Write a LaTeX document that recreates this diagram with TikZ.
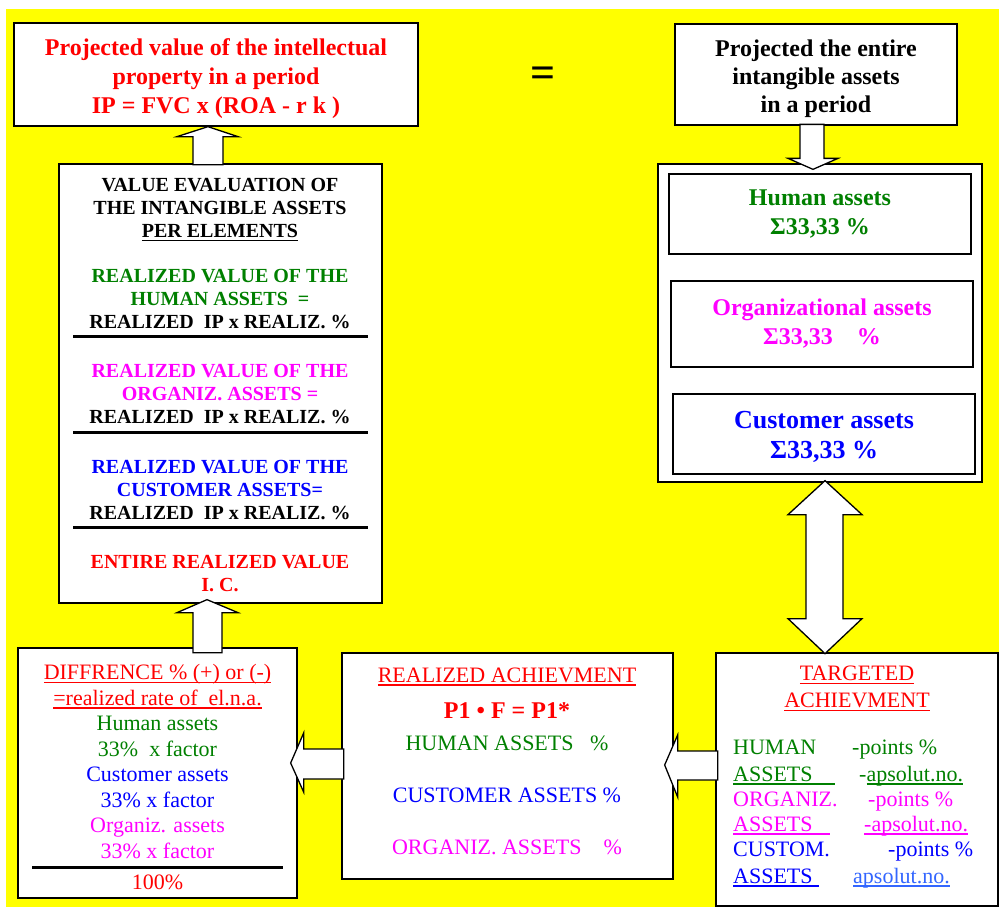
\documentclass[tikz,border=0pt]{standalone}
\usepackage{fontspec}
\setmainfont{Liberation Serif}
\usetikzlibrary{calc}
\definecolor{ipred}{RGB}{255,0,0}
\definecolor{ipgreen}{RGB}{0,128,0}
\definecolor{ipblue}{RGB}{0,0,255}
\definecolor{ipmagenta}{RGB}{255,0,255}
\definecolor{lightblue}{RGB}{51,102,255}
\definecolor{bgyellow}{RGB}{255,255,0}
\newcommand{\undl}[1]{\setbox0=\hbox{#1}\rlap{\rule[-3.5pt]{\wd0}{1.5pt}}\box0}

\begin{document}
\begin{tikzpicture}[x=1pt, y=-1pt,
	box/.style={draw, line width=1.3pt, fill=white, inner sep=0pt},
	blockarrow/.style={draw, line width=1.3pt, fill=white, line join=miter},
	rule/.style={line width=3pt},
	bighead/.style={font=\fontsize{24}{29}\selectfont\bfseries, align=center},
	evaltxt/.style={font=\fontsize{20}{23}\selectfont\bfseries, align=center},
	plain/.style={font=\fontsize{22}{25.5}\selectfont, align=center},
	oneline/.style={font=\fontsize{22}{22}\selectfont, inner sep=0pt, text height=14.5pt, text depth=0pt},
	row/.style={oneline, anchor=west}]
	\useasboundingbox (0,0) rectangle (999,907);
	\fill[bgyellow] (6,9) rectangle (999,907);

	\node[box, minimum width=404, minimum height=103] (ipbox) at (216,74.5) {};
	\node[bighead, text=ipred] (iptext) at (216,79) {Projected value of the intellectual\\property in a period\\IP = FVC x (ROA - r k )};
	\node[font=\fontsize{44}{44}\selectfont\bfseries] (eqsign) at (543,77) {=};
	\node[box, minimum width=282, minimum height=101] (totalbox) at (816,74.5) {};
	\node[bighead, font=\fontsize{24}{28}\selectfont\bfseries] (totaltext) at (816,78.5) {Projected the entire\\intangible assets\\in a period};

	\node[box, minimum width=324, minimum height=318] (bigbox) at (820,323) {};
	\node[box, minimum width=302, minimum height=80, bighead, text=ipgreen] (humanbox) at (820,214) {Human assets\\Σ33,33 \%};
	\node[box, minimum width=302, minimum height=86, bighead, text=ipmagenta] (orgbox) at (822,324) {Organizational assets\\Σ33,33\ \ \ \ \%};
	\node[box, minimum width=302, minimum height=80] (custbox) at (824,434) {};
	\node[bighead, font=\fontsize{26}{30}\selectfont\bfseries, text=ipblue] (custtext) at (824,437) {Customer assets\\Σ33,33 \%};

	\node[box, minimum width=323, minimum height=439] (evalbox) at (220.5,383.5) {};
	\node[evaltxt] (evaltitle) at (220,210) {VALUE EVALUATION OF\\THE INTANGIBLE ASSETS\\\undl{PER ELEMENTS}};
	\node[evaltxt, text=ipgreen] (evalhuman) at (220,299) {REALIZED VALUE OF THE\\HUMAN ASSETS\ \ =\\\textcolor{black}{REALIZED\ \ IP x REALIZ. \%}};
	\node[evaltxt, text=ipmagenta] (evalorg) at (220,394) {REALIZED VALUE OF THE\\ORGANIZ. ASSETS =\\\textcolor{black}{REALIZED\ \ IP x REALIZ. \%}};
	\node[evaltxt, text=ipblue] (evalcust) at (220,490) {REALIZED VALUE OF THE\\CUSTOMER ASSETS=\\\textcolor{black}{REALIZED\ \ IP x REALIZ. \%}};
	\node[evaltxt, text=ipred] (evaltotal) at (220,573.5) {ENTIRE REALIZED VALUE\\I. C.};
	\foreach \y in {336,432,527}
		\draw[rule] (73,\y) -- (368,\y);

	\node[box, minimum width=279, minimum height=250] (diffbox) at (157.5,773) {};
	\node[plain, text=ipred] (difftext) at (157.5,761.5) {\undl{DIFFRENCE \% (+) or (-)}\\\undl{=realized rate of\ \ el.n.a.}\\\textcolor{ipgreen}{Human assets}\\\textcolor{ipgreen}{33\%\ \ x factor}\\\textcolor{ipblue}{Customer assets}\\\textcolor{ipblue}{33\% x factor}\\\textcolor{ipmagenta}{Organiz. assets}\\\textcolor{ipmagenta}{33\% x factor}};
	\draw[rule] (32,867) -- (283,867);
	\node[oneline, text=ipred] (diffsum) at (157.5,882) {100\%};

	\node[box, minimum width=331, minimum height=226] (realbox) at (507.5,766) {};
	\node[oneline, text=ipred] (realtitle) at (507,675) {\undl{REALIZED ACHIEVMENT}};
	\node[oneline, font=\fontsize{24}{24}\selectfont\bfseries, text height=16pt, text=ipred] (realform) at (507,710) {P1 • F = P1*};
	\node[oneline, text=ipgreen] (realhuman) at (507,743) {HUMAN ASSETS\ \ \ \%};
	\node[oneline, text=ipblue] (realcust) at (507,795) {CUSTOMER ASSETS \%};
	\node[oneline, text=ipmagenta] (realorg) at (507,847) {ORGANIZ. ASSETS\ \ \ \ \%};

	\node[box, minimum width=282, minimum height=253] (targetbox) at (857,779.5) {};
	\node[plain, font=\fontsize{22}{27}\selectfont, text=ipred] (targettitle) at (857,688.5) {\undl{TARGETED}\\\undl{ACHIEVMENT}};
	\node[row, text=ipgreen] (thuman) at (733,747) {HUMAN};
	\node[row, text=ipgreen] (thumanpts) at (852,747) {-points \%};
	\node[row, text=ipgreen] (thumanas) at (733,774) {\undl{ASSETS\hspace*{22pt}}};
	\node[row, text=ipgreen] (thumanabs) at (859,774) {-\undl{apsolut.no.}};
	\node[row, text=ipmagenta] (torg) at (733,799) {ORGANIZ.};
	\node[row, text=ipmagenta] (torgpts) at (868,799) {-points \%};
	\node[row, text=ipmagenta] (torgas) at (733,824) {\undl{ASSETS\hspace*{17pt}}};
	\node[row, text=ipmagenta] (torgabs) at (864,824) {\undl{-apsolut.no.}};
	\node[row, text=ipblue] (tcust) at (733,849) {CUSTOM.};
	\node[row, text=ipblue] (tcustpts) at (888,849) {-points \%};
	\node[row, text=ipblue] (tcustas) at (733,876) {\undl{ASSETS\hspace*{6pt}}};
	\node[row, text=lightblue] (tcustabs) at (853,876) {\undl{apsolut.no.}};

	\draw[blockarrow] ([xshift=-8pt]ipbox.south) -- ++(30,10) -- ++(-15,0) -- ++(0,28) -- ++(-30,0) -- ++(0,-28) -- ++(-16,0) -- cycle;
	\draw[blockarrow] ([xshift=-13.5pt,yshift=4pt]evalbox.south) -- ++(31,13) -- ++(-16,0) -- ++(0,40) -- ++(-29,0) -- ++(0,-40) -- ++(-16,0) -- cycle;
	\draw[blockarrow] ([xshift=-7pt,yshift=10pt]diffbox.east) -- ++(13,-30) -- ++(0,16) -- ++(40,0) -- ++(0,30) -- ++(-40,0) -- ++(0,13) -- cycle;
	\draw[blockarrow] ([xshift=-9pt,yshift=1pt]realbox.east) -- ++(13,-30) -- ++(0,16) -- ++(40,0) -- ++(0,29) -- ++(-40,0) -- ++(0,17) -- cycle;
	\draw[blockarrow] ([xshift=-7pt,yshift=-6pt]bigbox.north) -- ++(25,-11) -- ++(-14,0) -- ++(0,-34) -- ++(-24,0) -- ++(0,34) -- ++(-12,0) -- cycle;
	\draw[blockarrow] ([xshift=5pt,yshift=2pt]bigbox.south) -- ++(37,34) -- ++(-19,0) -- ++(0,104) -- ++(19,0) -- ++(-37,35) -- ++(-37,-35) -- ++(18,0) -- ++(0,-104) -- ++(-18,0) -- cycle;
\end{tikzpicture}
\end{document}
